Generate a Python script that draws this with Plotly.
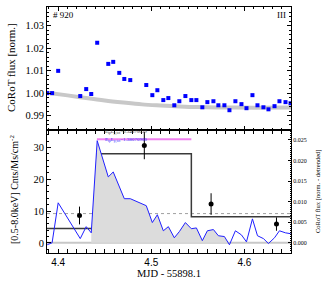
import plotly.graph_objects as go

# ---------------- data ----------------
mjd = [4.3882, 4.3935, 4.4000, 4.4237, 4.4301, 4.4355, 4.4419, 4.4538, 4.4591, 4.4656,
       4.4710, 4.4774, 4.4946, 4.5011, 4.5065, 4.5129, 4.5183, 4.5247, 4.5301, 4.5366,
       4.5430, 4.5484, 4.5548, 4.5602, 4.5667, 4.5720, 4.5785, 4.5839, 4.5903, 4.5968,
       4.6022, 4.6086, 4.6140, 4.6204, 4.6258, 4.6323, 4.6376, 4.6441, 4.6495]
flux = [1.0000, 1.0000, 1.0099, 0.9987, 1.0018, 0.9996, 1.0224, 1.0130, 1.0139, 1.0090,
        1.0063, 1.0058, 1.0036, 0.9991, 1.0013, 0.9969, 0.9978, 0.9946, 0.9964, 0.9987,
        0.9969, 0.9969, 0.9937, 0.9960, 0.9964, 0.9946, 0.9946, 0.9924, 0.9964, 0.9951,
        0.9933, 0.9991, 0.9946, 0.9937, 0.9928, 0.9942, 0.9964, 0.9960, 0.9955]
detrended = [-0.0005, 0.0000, 0.0097, 0.0010, 0.0039, 0.0024, 0.0248, 0.0160, 0.0172, 0.0136,
             0.0107, 0.0107, 0.0090, 0.0049, 0.0068, 0.0029, 0.0039, 0.0012, 0.0027, 0.0049,
             0.0034, 0.0036, 0.0005, 0.0029, 0.0032, 0.0017, 0.0015, -0.0005, 0.0029, 0.0019,
             0.0002, 0.0058, 0.0017, 0.0010, -0.0002, 0.0012, 0.0029, 0.0024, 0.0022]
trend_x = [4.388, 4.41, 4.43, 4.45, 4.47, 4.49, 4.51, 4.53, 4.55, 4.58, 4.61, 4.65]
trend_y = [1.0002, 0.9990, 0.9978, 0.9967, 0.9958, 0.9950, 0.9945, 0.9941, 0.9938, 0.9936, 0.9935, 0.9936]
flare_x = mjd[5:28]
flare_y = detrended[5:28]
block_edges = [4.388, 4.4416, 4.543, 4.65]
block_rates = [4.5, 28.0, 8.2, 8.2]
mean_rate = 9.2
xray_t = [4.4229, 4.4925, 4.5642, 4.6344]
xray_rate = [8.6, 30.6, 12.2, 5.9]
xray_err = [2.8, 4.3, 3.4, 2.1]
pink_x = [4.4416, 4.543]
pink_y = [32.6, 32.6]

XR = [4.388, 4.65]
SERIF = "Liberation Serif"
SANS = "Liberation Sans"

fig = go.Figure()

# top panel
fig.add_trace(go.Scatter(x=trend_x, y=trend_y, mode="lines", line=dict(color="#c8c8c8", width=4),
                         xaxis="x2", yaxis="y2", line_shape="spline", showlegend=False))
fig.add_trace(go.Scatter(x=mjd, y=flux, mode="markers",
                         marker=dict(symbol="square", size=4, color="#0000ff"),
                         xaxis="x2", yaxis="y2", showlegend=False))

# bottom panel
fig.add_trace(go.Scatter(x=flare_x, y=flare_y, mode="lines", line=dict(width=0),
                         fill="tozeroy", fillcolor="#dcdcdc", xaxis="x", yaxis="y3", showlegend=False))
fig.add_trace(go.Scatter(x=XR, y=[0, 0], mode="lines", line=dict(color="#c8c8c8", width=2),
                         xaxis="x", yaxis="y", showlegend=False))
fig.add_trace(go.Scatter(x=XR, y=[mean_rate, mean_rate], mode="lines",
                         line=dict(color="#a0a0a0", width=1, dash="dot"),
                         xaxis="x", yaxis="y", showlegend=False))
fig.add_trace(go.Scatter(x=mjd, y=detrended, mode="lines", line=dict(color="#2020ff", width=1),
                         xaxis="x", yaxis="y3", showlegend=False))
fig.add_trace(go.Scatter(x=block_edges, y=block_rates, mode="lines", line_shape="hv",
                         line=dict(color="#3a3a3a", width=1.5),
                         xaxis="x", yaxis="y", showlegend=False))
fig.add_trace(go.Scatter(x=pink_x, y=pink_y, mode="lines", line=dict(color="#f080f0", width=2),
                         xaxis="x", yaxis="y", showlegend=False))
fig.add_trace(go.Scatter(x=xray_t, y=xray_rate, mode="markers",
                         marker=dict(color="black", size=5),
                         error_y=dict(type="data", array=xray_err, color="black", thickness=1, width=0),
                         xaxis="x", yaxis="y", showlegend=False))

axis_common = dict(showline=True, linecolor="black", linewidth=1, ticks="inside",
                   tickcolor="black", ticklen=4, showgrid=False, zeroline=False, automargin=False)

fig.update_layout(
    width=327, height=287,
    margin=dict(l=47, r=36, t=7, b=34),
    paper_bgcolor="white", plot_bgcolor="white",
    font=dict(family=SERIF, color="black", size=10),
    hovermode=False,
    xaxis=dict(axis_common, domain=[0, 1], range=XR, anchor="y", mirror="allticks",
               tickvals=[4.4, 4.5, 4.6], ticktext=["4.4", "4.5", "4.6"],
               tickfont=dict(family=SANS, size=10),
               minor=dict(dtick=0.01, tick0=4.4, ticks="inside", ticklen=2, tickcolor="black")),
    xaxis2=dict(axis_common, domain=[0, 1], range=XR, anchor="y2", mirror="allticks",
                tickvals=[4.4, 4.5, 4.6], showticklabels=False, matches="x",
                tickfont=dict(family=SANS, size=10),
                minor=dict(dtick=0.01, tick0=4.4, ticks="inside", ticklen=2, tickcolor="black")),
    yaxis=dict(axis_common, domain=[0, 0.5], range=[-3.2, 35.5], anchor="x",
               tickvals=[0, 10, 20, 30], tickfont=dict(family=SERIF, size=10.5),
               minor=dict(dtick=2, ticks="inside", ticklen=2, tickcolor="black")),
    yaxis3=dict(axis_common, overlaying="y", side="right", anchor="x", range=[-0.0025, 0.0274],
                tickvals=[0, 0.005, 0.01, 0.015, 0.02, 0.025],
                ticktext=["0.000", "0.005", "0.010", "0.015", "0.020", "0.025"],
                tickfont=dict(family=SERIF, size=6), ticklen=3,
                minor=dict(dtick=0.0005, ticks="inside", ticklen=1.5, tickcolor="black")),
    yaxis2=dict(axis_common, domain=[0.5, 1], range=[0.9836, 1.0383], anchor="x2", mirror="allticks",
                tickvals=[0.99, 1.00, 1.01, 1.02, 1.03],
                ticktext=["0.99", "1.00", "1.01", "1.02", "1.03"],
                tickfont=dict(family=SERIF, size=10.5),
                minor=dict(dtick=0.002, tick0=0.99, ticks="inside", ticklen=2, tickcolor="black")),
)

def pxx(p):
    return (p - 47) / 244.0

def pxy(p):
    return (253 - p) / 246.0

annotations = [
    dict(text="CoRoT flux [norm.]", x=pxx(11), y=pxy(68), textangle=-90,
         font=dict(family=SERIF, size=11)),
    dict(text="[0.5-8.0keV] Cnts/Ms/cm<sup>-2</sup>", x=pxx(14), y=pxy(190), textangle=-90,
         font=dict(family=SERIF, size=10)),
    dict(text="CoRoT flux [norm. - detrended]", x=pxx(318), y=pxy(192), textangle=-90,
         font=dict(family=SERIF, size=6.5)),
    dict(text="MJD - 55898.1", x=pxx(169), y=pxy(273), font=dict(family=SERIF, size=10.5)),
    dict(text="# 920", x=pxx(51), y=pxy(15), xanchor="left", font=dict(family=SERIF, size=9)),
    dict(text="III", x=pxx(288), y=pxy(15), xanchor="right", font=dict(family=SERIF, size=9)),
    dict(text="E<sub>tp</sub>L<sub>p,tot</sub>=0.34070039", x=pxx(103), y=pxy(132), xanchor="left",
         font=dict(family=SERIF, size=5, color="#404040")),
    dict(text="E<sub>tp</sub>L<sub>p,tot</sub>=1.38070900", x=pxx(103), y=pxy(140), xanchor="left",
         font=dict(family=SERIF, size=5, color="#3030ff")),
]
for a in annotations:
    a.update(xref="paper", yref="paper", showarrow=False, xanchor=a.get("xanchor", "center"),
             yanchor="middle")
fig.update_layout(annotations=annotations)

fig.write_html("out.html", config={"displayModeBar": False, "staticPlot": True},
               post_script="document.body.style.margin='0';document.body.style.padding='0';")
